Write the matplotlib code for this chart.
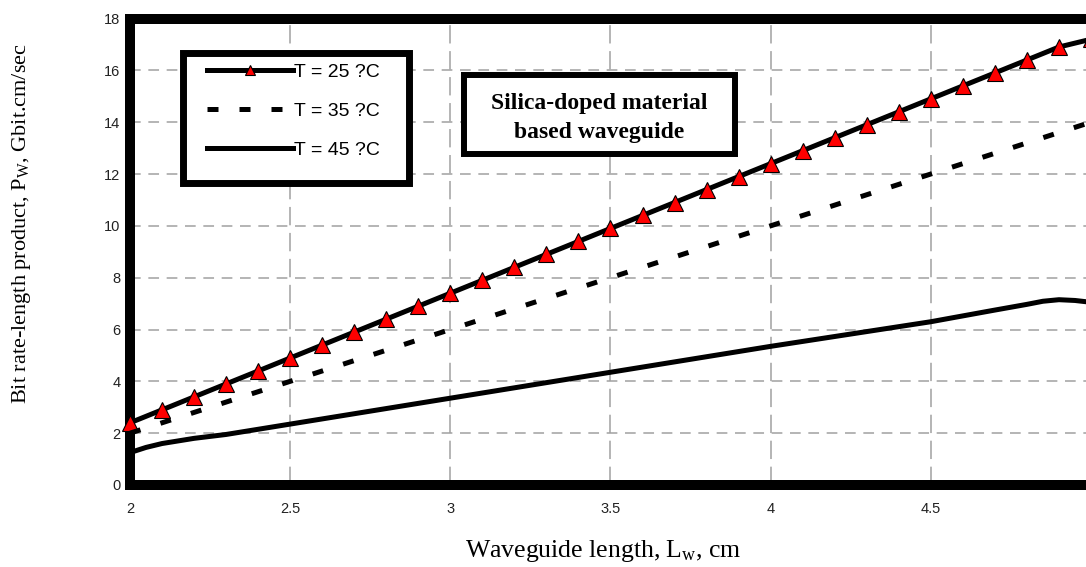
import matplotlib
matplotlib.use("Agg")
import matplotlib.pyplot as plt
from matplotlib.patches import Rectangle

# values
x25 = [2.0, 2.1, 2.2, 2.3, 2.4, 2.5, 2.6, 2.7, 2.8, 2.9, 3.0, 3.1, 3.2, 3.3, 3.4, 3.5,
       3.6, 3.7, 3.8, 3.9, 4.0, 4.1, 4.2, 4.3, 4.4, 4.5, 4.6, 4.7, 4.8, 4.9, 5.0]
y25 = [2.4, 2.9, 3.4, 3.9, 4.4, 4.9, 5.4, 5.9, 6.4, 6.9, 7.4, 7.9, 8.4, 8.9, 9.4, 9.9,
       10.4, 10.9, 11.4, 11.9, 12.4, 12.9, 13.4, 13.9, 14.4, 14.9, 15.4, 15.9, 16.4, 16.9, 17.2]
x35 = [2.0, 2.5, 3.0, 3.5, 4.0, 4.5, 5.0]
y35 = [2.0, 4.0, 6.0, 8.0, 10.0, 12.0, 14.0]
x45 = [2.0, 2.05, 2.1, 2.2, 2.3, 2.5, 3.0, 3.5, 4.0, 4.5, 4.7, 4.8, 4.85, 4.9, 4.95, 5.0]
y45 = [1.25, 1.45, 1.6, 1.8, 1.95, 2.35, 3.35, 4.35, 5.35, 6.3, 6.75, 6.97, 7.09, 7.15, 7.12, 7.05]

labels = ["T = 25 ?C", "T = 35 ?C", "T = 45 ?C"]
xticks = [2, 2.5, 3, 3.5, 4, 4.5, 5]
xticklabels = ["2", "2.5", "3", "3.5", "4", "4.5", ""]  # the 5 is cut off in the picture
yticks = [0, 2, 4, 6, 8, 10, 12, 14, 16, 18]
yticklabels = ["0", "2", "4", "6", "8", "10", "12", "14", "16", "18"]

W, H = 1086, 567
fig = plt.figure(figsize=(W / 100, H / 100), dpi=100)
ax = fig.add_axes([130 / W, 1 - 485 / H, (1091 - 130) / W, (485 - 18.5) / H])

lw = 3.6
l1, = ax.plot(x25, y25, color="black", lw=lw, marker="^", ms=11,
              mfc="#ff0000", mec="black", mew=0.8, zorder=3, clip_on=False)
l2, = ax.plot(x35, y35, color="black", lw=lw, linestyle=(0, (2.2, 4.2)),
              dash_capstyle="butt", zorder=3, clip_on=False)
l3, = ax.plot(x45, y45, color="black", lw=lw, zorder=3, clip_on=False)

ax.set_xlim(2, 5)
ax.set_ylim(0, 18)
ax.set_xticks(xticks)
ax.set_xticklabels(xticklabels)
ax.set_yticks(yticks)
ax.set_yticklabels(yticklabels)
ax.tick_params(length=0, labelsize=10.5, labelcolor="#222222")
ax.tick_params(axis="y", pad=7)
ax.tick_params(axis="x", pad=12)
for t in ax.get_xticklabels() + ax.get_yticklabels():
    t.set_family("Liberation Sans")

ax.set_axisbelow(True)
ax.xaxis.grid(True, color="#a0a0a0", lw=1.1, linestyle=(0, (12, 5)))
ax.yaxis.grid(True, color="#a0a0a0", lw=1.1, linestyle=(0, (7, 5)))

for s in ["left", "top", "bottom"]:
    ax.spines[s].set_linewidth(7.2)
ax.spines["right"].set_visible(False)

# legend, with its own frame box
ax.add_patch(Rectangle((183 / W, 1 - 183 / H), (409 - 183) / W, (183 - 53) / H,
                       transform=fig.transFigure, facecolor="white",
                       edgecolor="black", lw=5, zorder=4, clip_on=False))
leg = ax.legend([l1, l2, l3], labels, loc="center left",
                bbox_to_anchor=(207 / W, 1 - 111 / H), bbox_transform=fig.transFigure,
                frameon=False, borderpad=0, borderaxespad=0, handlelength=4.4,
                handletextpad=0.1, labelspacing=1.1, markerscale=0.7,
                prop={"family": "Liberation Sans", "size": 14})
leg.set_zorder(5)

# text box
ax.add_patch(Rectangle((464 / W, 1 - 154 / H), (735 - 464) / W, (154 - 75) / H,
                       transform=fig.transFigure, facecolor="white",
                       edgecolor="black", lw=4.3, zorder=4, clip_on=False))
fig.text(599.5 / W, 1 - 118 / H, "Silica-doped material\nbased waveguide",
         ha="center", va="center", family="Liberation Serif", weight="bold",
         size=17, linespacing=1.5, zorder=6)

fig.text(22 / W, 1 - 224 / H, "Bit rate-length product, $\\mathregular{P_W}$, Gbit.cm/sec",
         rotation=90, ha="center", va="center", family="Liberation Serif", size=16)
fig.text(603 / W, 1 - 551 / H, "Waveguide length, $\\mathregular{L_w}$, cm",
         ha="center", va="center", family="Liberation Serif", size=18.5)

fig.savefig("out.png", dpi=100)
